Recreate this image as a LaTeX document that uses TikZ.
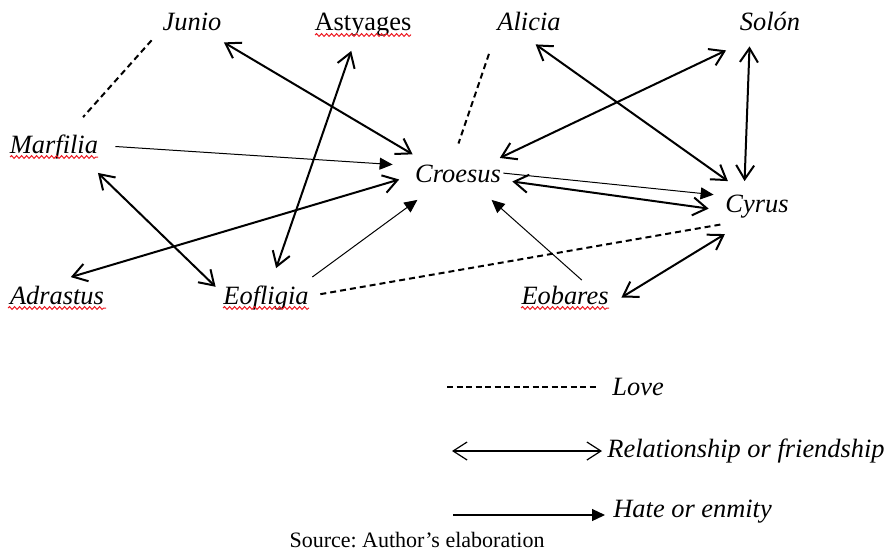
\documentclass[tikz,border=0pt]{standalone}
\usepackage{fontspec}
\setmainfont{Liberation Serif}
\usetikzlibrary{arrows.meta,decorations.pathmorphing}

\begin{document}
\frenchspacing
\begin{tikzpicture}[x=0.5pt,y=-0.5pt,
  actor/.style={font=\fontsize{13.2}{16}\selectfont\itshape,inner sep=0pt,text height=9pt,text depth=2.5pt},
  key/.style={actor},
  love/.style={draw=cedge,line width=1pt,dash pattern=on 3pt off 2pt},
  friend/.style={draw=cedge,line width=1pt,{Straight Barb[length=7pt,width=9pt]}-{Straight Barb[length=7pt,width=9pt]}},
  hate/.style={draw=cedge,line width=0.5pt,-{Triangle[length=6.5pt,width=6pt]}},
  squiggle/.style={draw=cwave,line width=0.5pt,decorate,decoration={snake,amplitude=0.7pt,segment length=2.5pt}}]
%
\useasboundingbox (0,0) rectangle (886,551);
%
\definecolor{cedge}{rgb}{0.0,0.0,0.0}
\definecolor{cwave}{rgb}{0.93,0.11,0.14}
%
\node[actor,minimum width=40pt,minimum height=18pt] (junio) at (192,24) {Junio};
\node[actor,font=\fontsize{13.2}{16}\selectfont\upshape,minimum width=50pt,minimum height=26pt] (astyages) at (363,24.5) {Astyages};
\node[actor,minimum width=45pt,minimum height=20pt] (alicia) at (529,24) {Alicia};
\node[actor,minimum width=45pt,minimum height=26pt] (solon) at (770,24) {Solón};
\node[actor,minimum width=61pt,minimum height=26pt] (marfilia) at (54,146.5) {Marfilia};
\node[actor,minimum width=45pt,minimum height=24pt] (croesus) at (458,175.5) {Croesus};
\node[actor,minimum width=43pt,minimum height=24pt] (cyrus) at (757,205.5) {Cyrus};
\node[actor,minimum width=48pt,minimum height=20pt] (adrastus) at (57,297.5) {Adrastus};
\node[actor,minimum width=50pt,minimum height=29pt] (eofligia) at (266,297.5) {Eofligia};
\node[actor,minimum width=56pt,minimum height=17pt] (eobares) at (565,297.5) {Eobares};
%
\foreach \n/\w in {marfilia/22,astyages/24,adrastus/24.5,eofligia/21.5,eobares/22}
  \draw[squiggle] ([xshift=-\w pt,yshift=-2pt]\n.base) -- ([xshift=\w pt,yshift=-2pt]\n.base);
%
\draw[love,shorten >=2pt] (junio.202) -- (marfilia.45);
\draw[friend] (junio.330) -- (croesus.155);
\draw[friend] (astyages.246) -- (eofligia.71);
\draw[hate,shorten >=10pt] (marfilia.0) -- (croesus.168);
\draw[friend] (marfilia.329) -- (eofligia.168);
\draw[friend,shorten >=7pt] (adrastus.56) -- (croesus.180);
\draw[hate,shorten <=-2.5pt] (eofligia.25) -- (croesus.211);
\draw[love,shorten <=2pt,shorten >=-5pt] (eofligia.3) -- (cyrus.205);
\draw[love,shorten <=5pt,shorten >=4pt] (alicia.209) -- (croesus.95);
\draw[friend] (alicia.288) -- (cyrus.140);
\draw[friend,shorten >=-2pt] (solon.211) -- (croesus.23);
\draw[friend,shorten <=-2pt] (solon.232) -- (cyrus.117);
\draw[hate] (croesus.3) -- (cyrus.166);
\draw[friend,shorten <=4.5pt,shorten >=2.5pt] (croesus.354) -- (cyrus.185);
\draw[hate] (eobares.46) -- (croesus.324);
\draw[friend,shorten >=4pt] (eobares.0) -- (cyrus.224);
%
\coordinate (lovefrom) at (447,387);
\coordinate (friendfrom) at (452,451);
\coordinate (hatefrom) at (453,515);
\node[key,anchor=base west] (lovekey) at (612,395) {Love};
\node[key,anchor=base west] (friendkey) at (607,457) {Relationship or friendship};
\node[key,anchor=base west] (hatekey) at (613,517) {Hate or enmity};
\draw[love,line width=0.6pt,dash pattern=on 3pt off 1.75pt,shorten >=7.5pt] (lovefrom) -- (lovefrom -| lovekey.west);
\draw[friend,line width=0.6pt,shorten >=2.5pt] (friendfrom) -- (friendfrom -| friendkey.west);
\draw[hate,line width=0.6pt,shorten >=4pt] (hatefrom) -- (hatefrom -| hatekey.west);
%
\node[font=\fontsize{11}{13}\selectfont,inner sep=0pt,anchor=base] (source) at (417,547) {Source: Author’s elaboration};
%
\end{tikzpicture}
\end{document}
